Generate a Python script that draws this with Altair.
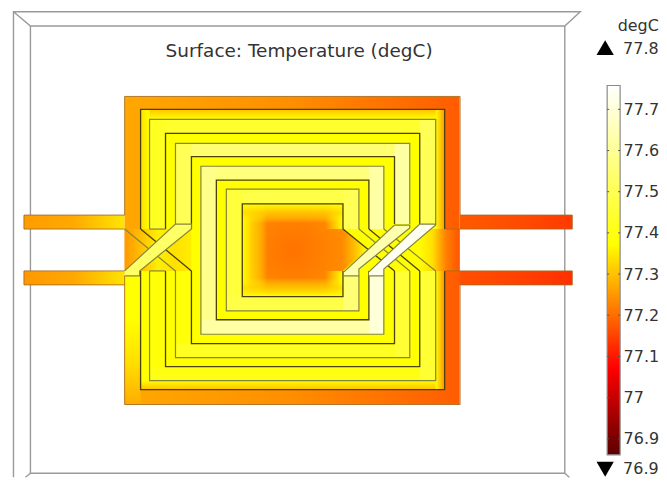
import altair as alt
import pandas as pd

TITLE = "Surface: Temperature (degC)"
UNIT = "degC"
MAX_LABEL = "77.8"
MIN_LABEL = "76.9"
TICKS = [76.9, 77.0, 77.1, 77.2, 77.3, 77.4, 77.5, 77.6, 77.7]
BAR_T = [76.861, 77.758]
HEAT_T = [76.86, 77.07, 77.37, 77.76]
HEAT_C = ["#5c0000", "#ff0000", "#ffff00", "#ffffff"]
FONT = "DejaVu Sans"

H, V = "h", "v"
CLEAR = "rgba(255,255,0,0)"
# region: x0, x1, y0, y1, direction, stops
GRAD_REGIONS = [
    (24, 125, 214, 228, H, ["#ff9c00", "#ffaa00", "#ffe600"]),
    (24, 125, 270, 284, H, ["#ff9800", "#ffa800", "#ffe400"]),
    (461, 574, 214, 228, H, ["#ff5a00", "#ff4c00", "#ff3a00"]),
    (446, 574, 270, 284, H, ["#ff5200", "#ff4400", "#ff3000"]),
    (125, 461, 95, 404, H, ["#ffa800", "#ff8e00", "#ff5c00"]),
    (141, 446, 108, 389, H, ["#ffff00", "#ffff00"]),
    (125, 141, 275, 404, V, ["#ffff00", "#ffff00", "#ffe000", "#ffac00"]),
    (141, 446, 108, 118, V, ["#ffc400", "#ffff00"]),
    (141, 446, 380, 389, V, ["#ffff00", "#ffc000"]),
    (437, 446, 108, 228, H, ["#ffff00", "#ff9800"]),
    (437, 446, 270, 389, H, ["#ffff00", "#ff9000"]),
    (141, 150, 108, 228, H, ["#ffe000", "#ffff00"]),
    (125, 192, 228, 270, H, ["#ff9800", "#ffc000", "#fff000", "#ffe000", "#ffee00"]),
    (420, 461, 228, 270, H, ["#ffff00", "#ffe000", "#ff8000", "#ff5400"]),
]
# soft yellow fringes round the centre hot spot
FRINGES = [
    (243, 268, 202.7, 295.7, H, ["#ffff00", "rgba(255,214,0,0.75)", CLEAR]),
    (326, 344, 202.7, 228, H, [CLEAR, "#ffff00"]),
    (326, 344, 270, 295.7, H, [CLEAR, "#ffff00"]),
    (243, 344, 202.7, 222, V, ["#ffff00", "rgba(255,214,0,0.7)", CLEAR]),
    (243, 344, 277, 295.7, V, [CLEAR, "rgba(255,214,0,0.7)", "#ffff00"]),
]

# conductor segments: x0, x1, y0, y1, temperature
CONDUCTORS = [
    (150, 437, 118, 132, 77.44), (176, 411, 142, 155.3, 77.54),
    (201.5, 385, 165, 179, 77.56), (227, 360, 188, 202.7, 77.48),
    (150, 166, 118, 228, 77.42), (176, 192, 142, 223, 77.50),
    (201.5, 217, 165, 333.5, 77.58), (227, 243, 188, 310, 77.46),
    (421, 437, 118, 223, 77.50), (395.7, 411, 142, 223, 77.62),
    (370, 385, 165, 228, 77.62), (344, 360, 188, 228, 77.50),
    (150, 166, 270, 380, 77.38), (150, 437, 366, 380, 77.40),
    (421, 437, 270, 380, 77.45), (176, 192, 270, 357, 77.38),
    (176, 411, 343, 357, 77.42), (395.7, 411, 270, 357, 77.45),
    (201.5, 385, 319, 333.5, 77.62), (370, 385, 275, 333.5, 77.70),
    (227, 360, 295.7, 310, 77.48), (344, 360, 275, 310, 77.55),
]

# diagonal bridges: colour, [(x, y top, y bottom)...]
BRIDGES = [
    ("#ffff66", [(125, 270, 275), (140, 256.2, 275), (140, 256.2, 270), (176, 223, 241), (192, 223, 228)]),
    ("#ffffb0", [(345, 271, 275), (360, 257, 275), (360, 257, 268), (395.7, 224, 239.3), (411, 224, 227)]),
    ("#fffff0", [(370, 271, 275), (385, 257, 275), (385, 257, 268), (421, 223, 237.5), (437, 223, 224)]),
]
BRIDGE_LINES = [
    [(125, 270), (176, 223), (192, 223), (192, 228), (140, 270), (140, 275), (125, 275)],
    [(345, 271), (395.7, 224), (411, 224), (411, 227), (360, 268), (360, 275), (345, 275)],
    [(370, 271), (421, 223), (437, 223), (437, 224), (385, 268), (385, 275), (370, 275)],
]
TIP = [(344, 228, 270), (368, 248, 249)]

DARK_LINES = [
    [(141, 228), (141, 108), (446, 108), (446, 228)],
    [(141, 270), (141, 389), (446, 389), (446, 270)],
    [(166, 228), (166, 132), (421, 132), (421, 223)],
    [(166, 270), (166, 366), (421, 366), (421, 270)],
    [(192, 228), (192, 155.3), (395.7, 155.3), (395.7, 223)],
    [(192, 270), (192, 343), (395.7, 343), (395.7, 270)],
    [(370, 228), (370, 179), (217, 179), (217, 319), (370, 319), (370, 270)],
    [(344, 228), (344, 202.7), (243, 202.7), (243, 295.7), (344, 295.7), (344, 270)],
    [(141, 228), (192, 270)],
    [(344, 228), (395.7, 270)],
    [(370, 228), (421, 270)],
]
GRAY_LINES = [
    [(150, 228), (150, 118), (437, 118), (437, 223)],
    [(150, 270), (150, 380), (437, 380), (437, 270)],
    [(176, 223), (176, 142), (411, 142), (411, 223)],
    [(176, 270), (176, 357), (411, 357), (411, 270)],
    [(385, 228), (385, 165), (201.5, 165), (201.5, 333.5), (385, 333.5), (385, 275)],
    [(360, 228), (360, 188), (227, 188), (227, 310), (360, 310), (360, 275)],
    [(150, 228), (166, 228)],
    [(150, 270), (166, 270)],
    [(125, 228), (176, 270)],
    [(360, 228), (411, 270)],
    [(385, 228), (437, 270)],
]
EDGE_LINES = [
    [(125, 214), (125, 95), (461.5, 95), (461.5, 214), (574, 214), (574, 228), (446, 228)],
    [(446, 270), (574, 270), (574, 284), (461.5, 284), (461.5, 404), (125, 404), (125, 275)],
    [(125, 214), (24, 214), (24, 228), (125, 228)],
    [(125, 270), (24, 270), (24, 284), (125, 284)],
]
FRAME_LINES = [
    [(13.5, 477), (13.5, 10), (582, 10), (566.5, 24.3), (30.5, 24.3), (13.5, 10)],
    [(30.5, 24.3), (30.5, 473), (566.5, 473), (566.5, 24.3)],
    [(30.5, 473), (25.5, 477)],
    [(566.5, 473), (571, 477)],
]

xs = alt.Scale(domain=[8, 598], nice=False, zero=False)
ys = alt.Scale(domain=[478, 8], nice=False, zero=False)
heat = alt.Scale(domain=HEAT_T, range=HEAT_C, interpolate="rgb")


def px(f):
    return alt.X(f, type="quantitative", scale=xs, axis=None)


def py(f):
    return alt.Y(f, type="quantitative", scale=ys, axis=None)


def gradient(direction, colors):
    n = len(colors) - 1
    return {
        "gradient": "linear",
        "x1": 0, "y1": 0,
        "x2": 1 if direction == H else 0,
        "y2": 1 if direction == V else 0,
        "stops": [{"offset": i / n, "color": c} for i, c in enumerate(colors)],
    }


def polylines(lines):
    return pd.DataFrame(
        [{"id": k, "i": i, "x": x, "y": y}
         for k, line in enumerate(lines) for i, (x, y) in enumerate(line)]
    )


def line_layer(lines, color, width, opacity=1.0):
    return alt.Chart(polylines(lines)).mark_line(
        color=color, strokeWidth=width, opacity=opacity, strokeJoin="miter"
    ).encode(x=px("x"), y=py("y"), detail="id:N", order="i:Q")


def grad_rects(regions):
    return [
        alt.Chart(pd.DataFrame([{"x0": x0, "x1": x1, "y0": y0, "y1": y1}]))
        .mark_rect(color=gradient(d, stops))
        .encode(x=px("x0"), x2="x1:Q", y=py("y0"), y2="y1:Q")
        for x0, x1, y0, y1, d, stops in regions
    ]


layers = [line_layer(FRAME_LINES, "#9a9a9a", 1.4)]
layers += grad_rects(GRAD_REGIONS)

# centre hot spot
layers.append(
    alt.Chart(pd.DataFrame([{"x": p[0], "a": p[1], "b": p[2]} for p in TIP]))
    .mark_area(color=gradient(H, ["#ff8c00", "#ffc000", "#ffff00"]))
    .encode(x=px("x"), y=py("a"), y2="b:Q")
)
layers.append(
    alt.Chart(pd.DataFrame([{"x0": 243, "x1": 344, "y0": 202.7, "y1": 295.7}]))
    .mark_rect(color={
        "gradient": "radial", "x1": 0.5, "y1": 0.5, "x2": 0.5, "y2": 0.5, "r1": 0, "r2": 0.7,
        "stops": [{"offset": 0, "color": "#ff7200"}, {"offset": 1, "color": "#ff9400"}],
    })
    .encode(x=px("x0"), x2="x1:Q", y=py("y0"), y2="y1:Q")
)
layers += grad_rects(FRINGES)

layers.append(
    alt.Chart(pd.DataFrame(CONDUCTORS, columns=["x0", "x1", "y0", "y1", "t"]))
    .mark_rect()
    .encode(x=px("x0"), x2="x1:Q", y=py("y0"), y2="y1:Q",
            color=alt.Color("t:Q", scale=heat, legend=None))
)
layers.append(line_layer(DARK_LINES, "#4a4208", 1.3))
layers.append(line_layer(GRAY_LINES, "#85853c", 1.2))
layers.append(line_layer(EDGE_LINES, "#a8691c", 1.0, 0.85))
for colour, pts in BRIDGES:
    layers.append(
        alt.Chart(pd.DataFrame([{"x": x, "a": a, "b": b} for x, a, b in pts]))
        .mark_area(color=colour, opacity=1)
        .encode(x=px("x"), y=py("a"), y2="b:Q")
    )
layers.append(line_layer(BRIDGE_LINES, "#85853c", 1.2))
layers.append(
    alt.Chart(pd.DataFrame([{"x": 300, "y": 49, "s": TITLE}]))
    .mark_text(font=FONT, fontSize=18.5, color="#333333", align="center", baseline="middle")
    .encode(x=px("x"), y=py("y"), text="s:N")
)
plot = alt.layer(*layers).properties(width=590, height=470)

# colour bar panel
bx = alt.Scale(domain=[598, 620], nice=False, zero=False)
by = alt.Scale(domain=[76.804, 77.942], nice=False, zero=False)
axis = alt.Axis(values=TICKS, format=".1~f", orient="right", domain=False, ticks=False, grid=False,
                labelFont=FONT, labelFontSize=16, labelColor="#333333", labelPadding=3, title=None)
bar = alt.Chart(pd.DataFrame([{"x0": 607, "x1": 620, "a": BAR_T[0], "b": BAR_T[1]}])).mark_rect(
    color={"gradient": "linear", "x1": 0, "y1": 0, "x2": 0, "y2": 1, "stops": [
        {"offset": 0, "color": "#ffffff"}, {"offset": 0.43, "color": "#ffff00"},
        {"offset": 0.765, "color": "#ff0000"}, {"offset": 1, "color": "#5c0000"}]},
    stroke="#8a8a8a", strokeWidth=1.2,
).encode(x=alt.X("x0:Q", scale=bx, axis=None), x2="x1:Q",
         y=alt.Y("a:Q", scale=by, axis=axis), y2="b:Q")
tick_df = pd.DataFrame(
    [{"x0": a, "x1": b, "t": t} for t in TICKS for a, b in [(607, 609), (618, 620)]])
ticks = alt.Chart(tick_df).mark_rule(color="#555555", strokeWidth=1).encode(
    x=alt.X("x0:Q", scale=bx, axis=None), x2="x1:Q", y=alt.Y("t:Q", scale=by, axis=axis))


def label(text, x, y):
    return alt.Chart(pd.DataFrame([{"s": text}])).mark_text(
        font=FONT, fontSize=16, color="#333333", align="left", baseline="middle"
    ).encode(x=alt.value(x), y=alt.value(y), text="s:N")


def tri(shape, y):
    return alt.Chart(pd.DataFrame([{"s": shape}])).mark_point(
        filled=True, color="black", opacity=1, size=300, shape=shape
    ).encode(x=alt.value(7), y=alt.value(y))


panel = alt.layer(
    bar, ticks,
    label(UNIT, 19.5, 16), label(MAX_LABEL, 25, 39), label(MIN_LABEL, 25, 461),
    tri("triangle-up", 38), tri("triangle-down", 461),
).properties(width=22, height=470)

chart = (
    alt.hconcat(plot, panel, spacing=0)
    .properties(padding=0)
    .configure_view(stroke=None)
)
chart.save("out.html", embed_options={"renderer": "svg", "actions": False})
